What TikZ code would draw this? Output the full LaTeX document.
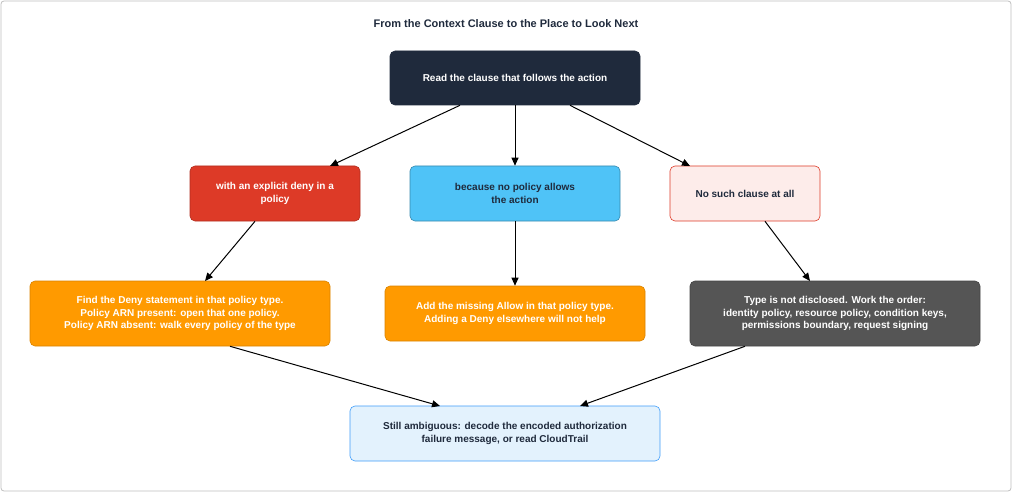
\documentclass[tikz,border=0pt]{standalone}
\usepackage{fontspec}
\setmainfont{Liberation Sans}
\usetikzlibrary{arrows.meta}
\definecolor{navy}{HTML}{1F2A3C}
\definecolor{redf}{HTML}{DD3A27}
\definecolor{bluef}{HTML}{4FC3F7}
\definecolor{pinkf}{HTML}{FDECEA}
\definecolor{orangef}{HTML}{FF9A00}
\definecolor{greyf}{HTML}{555555}
\definecolor{lbluef}{HTML}{E3F2FD}
\begin{document}
\begin{tikzpicture}[x=1pt,y=-1pt,
  box/.style={rounded corners=5pt,draw,line width=0.6pt,align=center,font=\bfseries\fontsize{10}{12.5}\selectfont,inner sep=0pt},
  arr/.style={-{Triangle[length=8pt,width=7pt]},line width=1pt,black}]
\useasboundingbox (0,0) rectangle (1012,492);
\draw[rounded corners=3pt,draw=black!25,line width=0.8pt] (1,1) rectangle (1011,491);
\node[font=\bfseries\fontsize{11}{13}\selectfont,text=navy] (title) at (506,24) {From the Context Clause to the Place to Look Next};
\node[box,fill=navy,draw=navy,text=white,minimum width=250pt,minimum height=54pt] (top) at (515,78) {Read the clause that follows the action};
\node[box,fill=redf,draw=redf!80!black,text=white,minimum width=170pt,minimum height=55pt] (red) at (275,193.5) {with an explicit deny in a\\policy};
\node[box,fill=bluef,draw=bluef!70!black,text=navy,minimum width=210pt,minimum height=55pt] (blue) at (515,193.5) {because no policy allows\\the action};
\node[box,fill=pinkf,draw=redf,text=navy,minimum width=150pt,minimum height=55pt] (pink) at (745,193.5) {No such clause at all};
\node[box,fill=orangef,draw=orangef!85!black,text=white,minimum width=300pt,minimum height=65pt] (o1) at (180,313.5) {Find the Deny statement in that policy type.\\Policy ARN present: open that one policy.\\Policy ARN absent: walk every policy of the type};
\node[box,fill=orangef,draw=orangef!85!black,text=white,minimum width=260pt,minimum height=55pt] (o2) at (515,313.5) {Add the missing Allow in that policy type.\\Adding a Deny elsewhere will not help};
\node[box,fill=greyf,draw=greyf!80!black,text=white,minimum width=290pt,minimum height=65pt] (grey) at (835,313.5) {Type is not disclosed. Work the order:\\identity policy, resource policy, condition keys,\\permissions boundary, request signing};
\node[box,fill=lbluef,draw=bluef!80!blue,text=navy,minimum width=310pt,minimum height=55pt] (bot) at (505,433.5) {Still ambiguous: decode the encoded authorization\\failure message, or read CloudTrail};
\draw[arr] (top.south -| 460,0) -- (330,166);
\draw[arr] (top.south) -- (blue.north);
\draw[arr] (top.south -| 570,0) -- (690,166);
\draw[arr] (red.south -| 255,0) -- (205,281);
\draw[arr] (blue.south) -- (o2.north);
\draw[arr] (pink.south -| 765,0) -- (810,281);
\draw[arr] (o1.south -| 230,0) -- (440,406);
\draw[arr] (grey.south -| 745,0) -- (580,406);
\end{tikzpicture}
\end{document}
